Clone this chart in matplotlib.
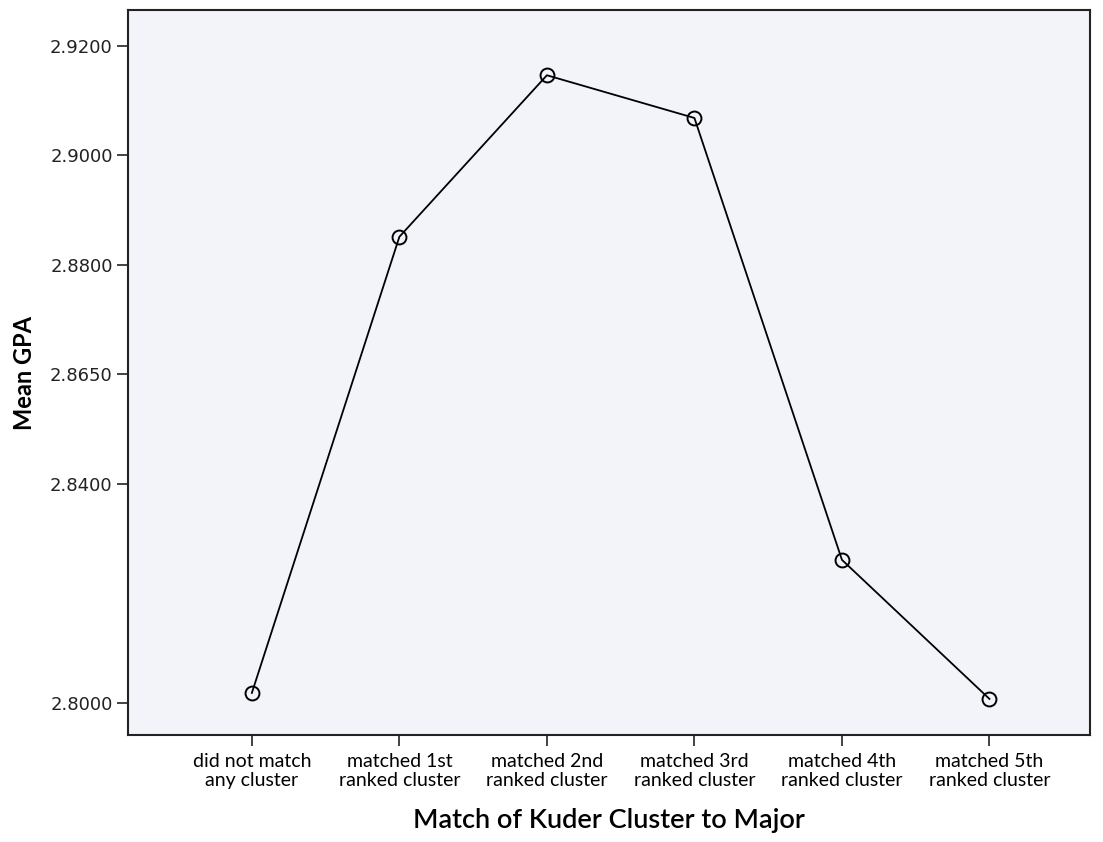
import matplotlib
matplotlib.use("Agg")
import matplotlib.pyplot as plt

plt.rcParams['font.family'] = ['Lato', 'DejaVu Sans']

categories = ["did not match\nany cluster", "matched 1st\nranked cluster", "matched 2nd\nranked cluster",
              "matched 3rd\nranked cluster", "matched 4th\nranked cluster", "matched 5th\nranked cluster"]
mean_gpa = [2.8018, 2.8851, 2.9146, 2.9068, 2.8261, 2.8007]
ytick_vals = [2.92, 2.90, 2.88, 2.86, 2.84, 2.80]
ytick_labels = ["2.9200", "2.9000", "2.8800", "2.8650", "2.8400", "2.8000"]

fig = plt.figure(figsize=(11.03, 8.42), dpi=100)
ax = fig.add_axes([0.116, 0.127, 0.872, 0.861])
ax.set_facecolor("#f3f4f9")

x = list(range(len(categories)))
ax.plot(x, mean_gpa, color="black", lw=1.3, marker="o", markersize=10,
        markerfacecolor="none", markeredgecolor="black", markeredgewidth=1.4)

ax.set_xlim(-0.84, 5.68)
ax.set_ylim(2.7941, 2.9265)
ax.set_xticks(x)
ax.set_xticklabels(categories, fontsize=14, linespacing=1.1)
ax.set_yticks(ytick_vals)
ax.set_yticklabels(ytick_labels, fontsize=13, family="DejaVu Sans", color="#222222")
ax.tick_params(axis="both", direction="out", length=8, width=1.2, color="#222222")
ax.tick_params(axis="x", pad=5)
ax.tick_params(axis="y", pad=3)

for s in ax.spines.values():
    s.set_linewidth(1.5)
    s.set_color("#222222")

ax.set_ylabel("Mean GPA", fontsize=17, fontweight="bold", labelpad=10)
ax.set_xlabel("Match of Kuder Cluster to Major", fontsize=19.5, fontweight="semibold", labelpad=14)

fig.savefig("out.png", dpi=100)
